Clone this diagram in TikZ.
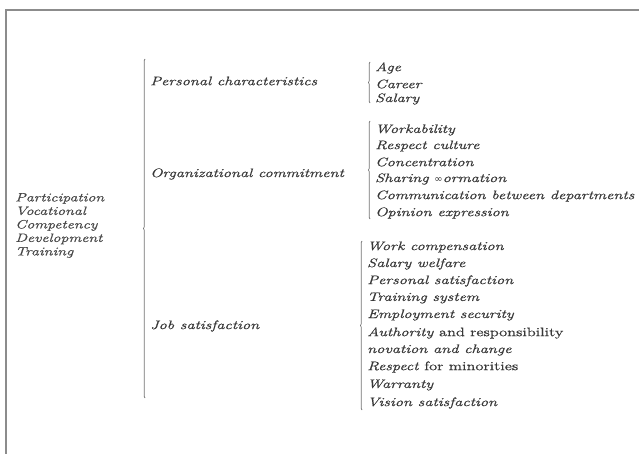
\documentclass[tikz,border=0pt]{standalone}
\usepackage{fontspec}
\setmainfont{Latin Modern Roman}[FakeStretch=1.33,FakeBold=0.8]
\newfontfamily\symfont{DejaVu Sans}
\usetikzlibrary{decorations.pathreplacing}
\begin{document}
\begin{tikzpicture}[x=1pt,y=-1pt,
  txt/.style={anchor=west,inner sep=0pt,font=\fontsize{12.3}{12}\selectfont\itshape,text=black!78},
  lefttxt/.style={anchor=north west,inner sep=0pt,align=left,font=\fontsize{12}{13.5}\selectfont\itshape,text=black!72},
  bar/.style={draw=black!55,line width=0.7pt,decorate,decoration={brace,amplitude=1.6pt,aspect=0.5}},
  frameline/.style={draw=black!45,line width=1.6pt}]
\useasboundingbox (0,0) rectangle (639,454);
% frame
\coordinate (f1) at (6,454);
\coordinate (f2) at (6,10);
\coordinate (f3) at (639,10);
\draw[frameline] (f1) -- (f2) -- (f3);
% root
\node[lefttxt] (root) at (15,193) {Participation\\Vocational\\Competency\\Development\\Training};
% main bar
\coordinate (mb1) at (145,398);
\coordinate (mb2) at (145,59);
\draw[bar] (mb1) -- (mb2);
% second level
\node[txt] (pc) at (150,81) {Personal characteristics};
\node[txt] (oc) at (150,174) {Organizational commitment};
\node[txt] (js) at (150,326) {Job satisfaction};
% group 1
\coordinate (g1a) at (370,103);
\coordinate (g1b) at (370,62);
\draw[bar] (g1a) -- (g1b);
\node[txt] (a1) at (375,68) {Age};
\node[txt] (a2) at (375,84) {Career};
\node[txt] (a3) at (375,99) {Salary};
% group 2
\coordinate (g2a) at (370,219);
\coordinate (g2b) at (370,121);
\draw[bar] (g2a) -- (g2b);
\node[txt] (b1) at (375,130) {Workability};
\node[txt] (b2) at (375,146) {Respect culture};
\node[txt] (b3) at (375,162) {Concentration};
\node[txt] (b4) at (375,179) {Sharing {\symfont\upshape\fontsize{10}{10}\selectfont ∞}ormation};
\node[txt] (b5) at (375,196) {Communication between departments};
\node[txt] (b6) at (375,213) {Opinion expression};
% group 3
\coordinate (g3a) at (362,410);
\coordinate (g3b) at (362,241);
\draw[bar] (g3a) -- (g3b);
\node[txt] (c1) at (367,247) {Work compensation};
\node[txt] (c2) at (367,264) {Salary welfare};
\node[txt] (c3) at (367,281) {Personal satisfaction};
\node[txt] (c4) at (367,298) {Training system};
\node[txt] (c5) at (367,315) {Employment security};
\node[txt] (c6) at (367,333) {Authority \upshape and responsibility};
\node[txt] (c7) at (367,350) {novation and change};
\node[txt] (c8) at (367,367) {Respect \upshape for minorities};
\node[txt] (c9) at (367,385) {Warranty};
\node[txt] (c10) at (367,403) {Vision satisfaction};
\end{tikzpicture}
\end{document}
